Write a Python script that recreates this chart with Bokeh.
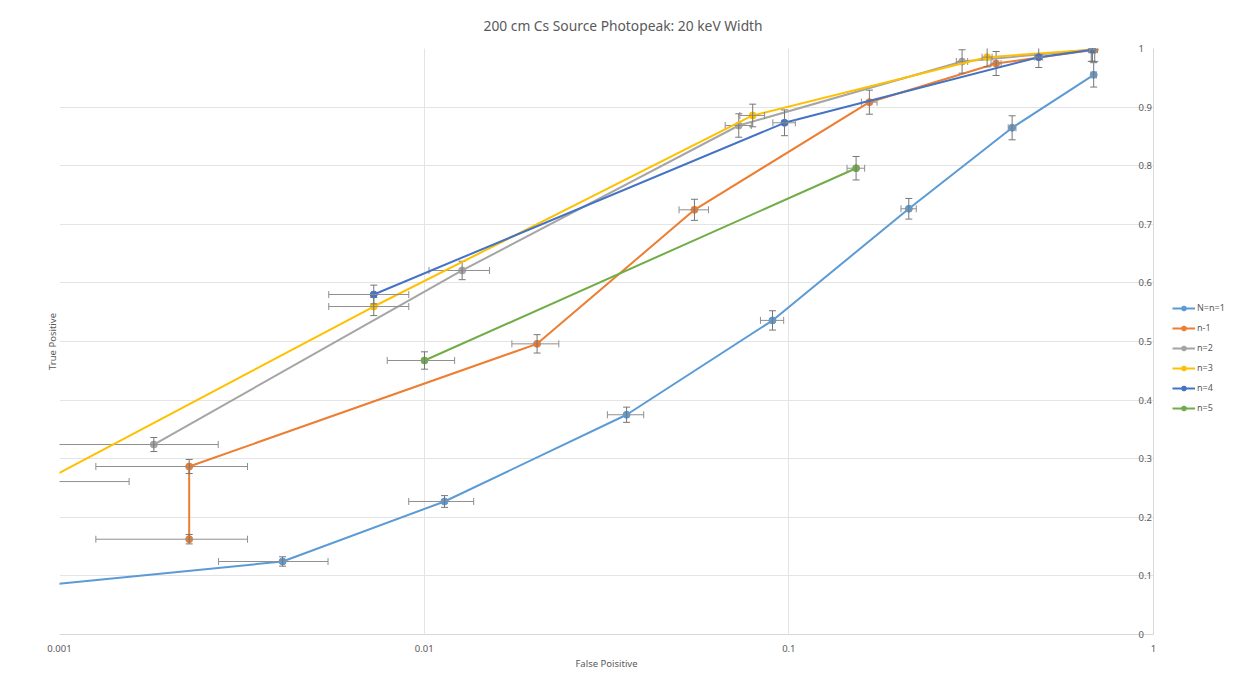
import numpy as np
from bokeh.plotting import figure
from bokeh.layouts import row
from bokeh.models import Range1d, FixedTicker, Legend, LegendItem, Title
from bokeh.embed import file_html
from bokeh.resources import INLINE

# ---------------- data ----------------
title_text = "200 cm Cs Source Photopeak: 20 keV Width"
x_title = "False Poisitive"
y_title = "True Positive"

x_ticks = [0.001, 0.01, 0.1, 1]
x_tick_labels = ["0.001", "0.01", "0.1", "1"]
y_ticks = [0, 0.1, 0.2, 0.3, 0.4, 0.5, 0.6, 0.7, 0.8, 0.9, 1]
y_tick_labels = ["0", "0.1", "0.2", "0.3", "0.4", "0.5", "0.6", "0.7", "0.8", "0.9", "1"]

series_names = ["N=n=1", "n-1", "n=2", "n=3", "n=4", "n=5"]
series_colors = ["#5B9BD5", "#ED7D31", "#A5A5A5", "#FFC000", "#4472C4", "#70AD47"]

fp_N1 = [0.0005, 0.00409, 0.01137, 0.0359, 0.0902, 0.2133, 0.4096, 0.6855]
tp_N1 = [0.068, 0.1246, 0.227, 0.375, 0.536, 0.7265, 0.8647, 0.955]
fperr_N1 = [0.0003, 0.00136, 0.0023, 0.0041, 0.0066, 0.0103, 0.010, 0.012]
tperr_N1 = [0.006, 0.008, 0.010, 0.013, 0.0165, 0.0176, 0.0205, 0.0208]

fp_m1 = [0.002268, 0.002268, 0.0204, 0.0551, 0.1663, 0.3702, 0.69]
tp_m1 = [0.1626, 0.2867, 0.496, 0.7247, 0.9084, 0.9744, 0.998]
fperr_m1 = [0.00101, 0.00101, 0.003, 0.0051, 0.0082, 0.0118, 0.012]
tperr_m1 = [0.008, 0.012, 0.0157, 0.018, 0.0205, 0.0205, 0.02]

fp_n2 = [0.001814, 0.01271, 0.0729, 0.2986, 0.675]
tp_n2 = [0.3242, 0.6212, 0.8686, 0.9778, 0.998]
fperr_n2 = [0.00091, 0.0024, 0.006, 0.0107, 0.012]
tperr_n2 = [0.012, 0.0157, 0.02, 0.02, 0.02]

fp_n3 = [0.000902, 0.007274, 0.0796, 0.3498, 0.68]
tp_n3 = [0.261, 0.5597, 0.8857, 0.9852, 0.998]
fperr_n3 = [0.00065, 0.0018, 0.0062, 0.011, 0.012]
tperr_n3 = [0.012, 0.0155, 0.0193, 0.0165, 0.02]

fp_n4 = [0.007274, 0.0973, 0.4845, 0.68]
tp_n4 = [0.5802, 0.8732, 0.9852, 0.998]
fperr_n4 = [0.0018, 0.0069, 0.012, 0.012]
tperr_n4 = [0.016, 0.022, 0.0176, 0.02]

fp_n5 = [0.01002, 0.1529]
tp_n5 = [0.4676, 0.7957]
fperr_n5 = [0.0021, 0.0085]
tperr_n5 = [0.0148, 0.02]

all_fp = [fp_N1, fp_m1, fp_n2, fp_n3, fp_n4, fp_n5]
all_tp = [tp_N1, tp_m1, tp_n2, tp_n3, tp_n4, tp_n5]
all_fperr = [fperr_N1, fperr_m1, fperr_n2, fperr_n3, fperr_n4, fperr_n5]
all_tperr = [tperr_N1, tperr_m1, tperr_n2, tperr_n3, tperr_n4, tperr_n5]

# ---------------- styling ----------------
FONT = "Noto Sans"
TXT = "#595959"
GRID = "#e4e4e4"
XERR_COL = "#8f8f8f"
YERR_COL = "#777777"

p = figure(frame_width=1094, frame_height=586, x_axis_type="log",
           x_range=Range1d(0.001, 1), y_range=Range1d(0, 1),
           y_axis_location="right", output_backend="svg",
           toolbar_location=None, title=title_text,
           min_border_left=59, min_border_top=48, min_border_bottom=38,
           min_border_right=15)
p.outline_line_color = None
p.background_fill_color = "white"
p.border_fill_color = "white"

p.title.align = "left"
p.title.offset = 424
p.title.text_font = FONT
p.title.text_font_size = "13.8px"
p.title.text_font_style = "normal"
p.title.text_color = TXT
p.title.standoff = 27

p.add_layout(Title(text=y_title, align="center", text_font=FONT,
                   text_font_size="9.5px", text_font_style="normal",
                   text_color=TXT, standoff=2), "left")

xa = p.xaxis[0]
xa.ticker = FixedTicker(ticks=x_ticks, minor_ticks=[])
xa.major_label_overrides = {t: l for t, l in zip(x_ticks, x_tick_labels)}
xa.axis_label = x_title
xa.axis_label_text_font = FONT
xa.axis_label_text_font_size = "9.5px"
xa.axis_label_text_font_style = "normal"
xa.axis_label_text_color = TXT
xa.axis_label_standoff = 2
xa.major_label_text_font = FONT
xa.major_label_text_font_size = "9.5px"
xa.major_label_text_color = TXT
xa.major_label_standoff = 4
xa.axis_line_color = "#d9d9d9"
xa.major_tick_line_color = None
xa.minor_tick_line_color = None

ya = p.yaxis[0]
ya.ticker = FixedTicker(ticks=y_ticks, minor_ticks=[])
ya.major_label_overrides = {t: l for t, l in zip(y_ticks, y_tick_labels)}
ya.major_label_text_font = FONT
ya.major_label_text_font_size = "9.5px"
ya.major_label_text_color = TXT
ya.major_label_standoff = -21
ya.axis_label = " "
ya.axis_label_text_font_size = "10px"
ya.axis_label_standoff = 0
ya.axis_line_color = "#d9d9d9"
ya.major_tick_line_color = None
ya.minor_tick_line_color = None

p.xgrid.grid_line_color = GRID
p.ygrid.grid_line_color = GRID

# legend lives in a narrow companion figure to the right of the chart;
# its proxy glyphs use the series data but sit outside that figure's ranges
lg = figure(width=62, height=672, x_range=Range1d(10, 11),
            y_range=Range1d(10, 11),
            x_axis_location=None, y_axis_location=None, output_backend="svg",
            toolbar_location=None, min_border=0)
lg.outline_line_color = None
lg.grid.grid_line_color = None

items = []
for name, col, fp, tp, fe, te in zip(series_names, series_colors, all_fp,
                                     all_tp, all_fperr, all_tperr):
    fp = np.array(fp); tp = np.array(tp); fe = np.array(fe); te = np.array(te)
    p.line(fp, tp, line_color=col, line_width=2)
    p.scatter(fp, tp, size=7, fill_color=col, line_color=col)
    # horizontal error bars
    p.segment(fp - fe, tp, fp + fe, tp, line_color=XERR_COL, line_width=1)
    p.scatter(np.concatenate([fp - fe, fp + fe]), np.concatenate([tp, tp]),
              marker="dash", angle=np.pi / 2, size=7, line_color=XERR_COL,
              line_width=1)
    # vertical error bars
    p.segment(fp, tp - te, fp, tp + te, line_color=YERR_COL, line_width=1)
    p.scatter(np.concatenate([fp, fp]), np.concatenate([tp - te, tp + te]),
              marker="dash", size=7, line_color=YERR_COL, line_width=1)
    # legend proxies in the legend figure
    lr = lg.line(fp, tp, line_color=col, line_width=2)
    sr = lg.scatter(fp, tp, size=7, fill_color=col, line_color=col)
    items.append(LegendItem(label=name, renderers=[lr, sr]))

legend = Legend(items=items, location=(4, 220), glyph_width=23,
                glyph_height=12, label_height=12, spacing=7, padding=0,
                margin=0, label_standoff=2, label_text_font=FONT,
                label_text_font_size="9px", label_text_color=TXT,
                border_line_color=None, background_fill_alpha=0)
lg.add_layout(legend)

layout = row(p, lg)
open("out.html", "w").write(file_html(layout, INLINE))
